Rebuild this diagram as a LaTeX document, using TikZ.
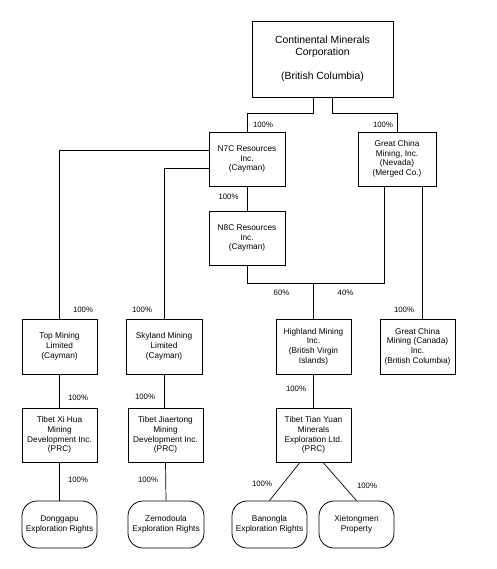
\documentclass[tikz,border=0pt]{standalone}
\usepackage{fontspec}
\setmainfont{Liberation Sans}
\begin{document}
\begin{tikzpicture}[x=1pt,y=-1pt,
  ent/.style={draw,line width=0.8pt,minimum width=75pt,minimum height=54pt,inner sep=0pt,align=center,font=\fontsize{8.3}{9.7}\selectfont},
  prop/.style={ent,rounded corners=15pt,minimum height=47pt},
  pct/.style={inner sep=0pt,font=\fontsize{7.8}{9}\selectfont},
  conn/.style={line width=0.7pt}]
\useasboundingbox (0,0) rectangle (496,569);
% entities
\node[ent,minimum width=141pt,minimum height=76pt,font=\fontsize{10.4}{12}\selectfont] (top) at (322.5,59) {Continental Minerals\\Corporation\\[12pt](British Columbia)};
\node[ent,minimum width=76pt] (n7c) at (247,159) {N7C Resources\\Inc.\\(Cayman)};
\node[ent,minimum width=78pt] (gcm) at (397,159) {Great China\\Mining, Inc.\\(Nevada)\\(Merged Co.)};
\node[ent,minimum width=76pt] (n8c) at (247,238) {N8C Resources\\Inc.\\(Cayman)};
\node[ent,minimum height=55pt] (topm) at (59.5,346.5) {Top Mining\\Limited\\(Cayman)};
\node[ent,minimum width=76pt,minimum height=55pt] (sky) at (164,346.5) {Skyland Mining\\Limited\\(Cayman)};
\node[ent,minimum height=55pt] (hl) at (313.5,346.5) {Highland Mining\\Inc.\\(British Virgin\\Islands)};
\node[ent,minimum height=55pt] (gcmc) at (417.5,346.5) {Great China\\Mining (Canada)\\Inc.\\(British Columbia)};
\node[ent] (txh) at (59.5,435) {Tibet Xi Hua\\Mining\\Development Inc.\\(PRC)};
\node[ent] (tjt) at (165.5,435) {Tibet Jiaertong\\Mining\\Development Inc.\\(PRC)};
\node[ent] (tty) at (313.5,435) {Tibet Tian Yuan\\Minerals\\Exploration Ltd.\\(PRC)};
\node[prop] (dgp) at (59.5,524.5) {Donggapu\\Exploration Rights};
\node[prop,minimum width=76pt] (zmd) at (166,524.5) {Zemodoula\\Exploration Rights};
\node[prop] (bnl) at (269.5,524.5) {Banongla\\Exploration Rights};
\node[prop] (xtm) at (356.5,524.5) {Xietongmen\\Property};
% connectors
\draw[conn] ([xshift=-9.5pt]top.south) -- ++(0,16) -| (n7c.north);
\draw[conn] ([xshift=9.5pt]top.south) -- ++(0,16) -| (gcm.north);
\draw[conn] ([yshift=9pt]n7c.west) -| (topm.north);
\draw[conn] ([yshift=-9pt]n7c.west) -| (sky.north);
\draw[conn] (n7c.south) -- (n8c.north);
\coordinate (j) at (313.5,283);
\draw[conn] (n8c.south) |- (j);
\draw[conn] ([xshift=-13pt]gcm.south) |- (j);
\draw[conn] (j) -- (hl.north);
\draw[conn] ([xshift=25pt]gcm.south) -- ([xshift=25pt]gcm.south |- gcmc.north);
\draw[conn] (topm.south) -- (txh.north);
\draw[conn] (sky.south) -- (sky.south |- tjt.north);
\draw[conn] (hl.south) -- (tty.north);
\draw[conn] (txh.south) -- (dgp.north);
\draw[conn] (tjt.south) -- (zmd.north);
\draw[conn] ([xshift=-13.5pt]tty.south) -- (bnl.north);
\draw[conn] ([xshift=9.5pt]tty.south) -- (xtm.north);
% percentages
\node[pct] (p1) at (263,125) {100\%};
\node[pct] (p2) at (383,125) {100\%};
\node[pct] (p3) at (228.5,197) {100\%};
\node[pct] (p4) at (281.5,293) {60\%};
\node[pct] (p5) at (345.5,293) {40\%};
\node[pct] (p6) at (83,310) {100\%};
\node[pct] (p7) at (142,310) {100\%};
\node[pct] (p8) at (404,310) {100\%};
\node[pct] (p9) at (78,398) {100\%};
\node[pct] (p10) at (145,397) {100\%};
\node[pct] (p11) at (296,389) {100\%};
\node[pct] (p12) at (78,480) {100\%};
\node[pct] (p13) at (148,480) {100\%};
\node[pct] (p14) at (262,484) {100\%};
\node[pct] (p15) at (367,486) {100\%};
\end{tikzpicture}
\end{document}
